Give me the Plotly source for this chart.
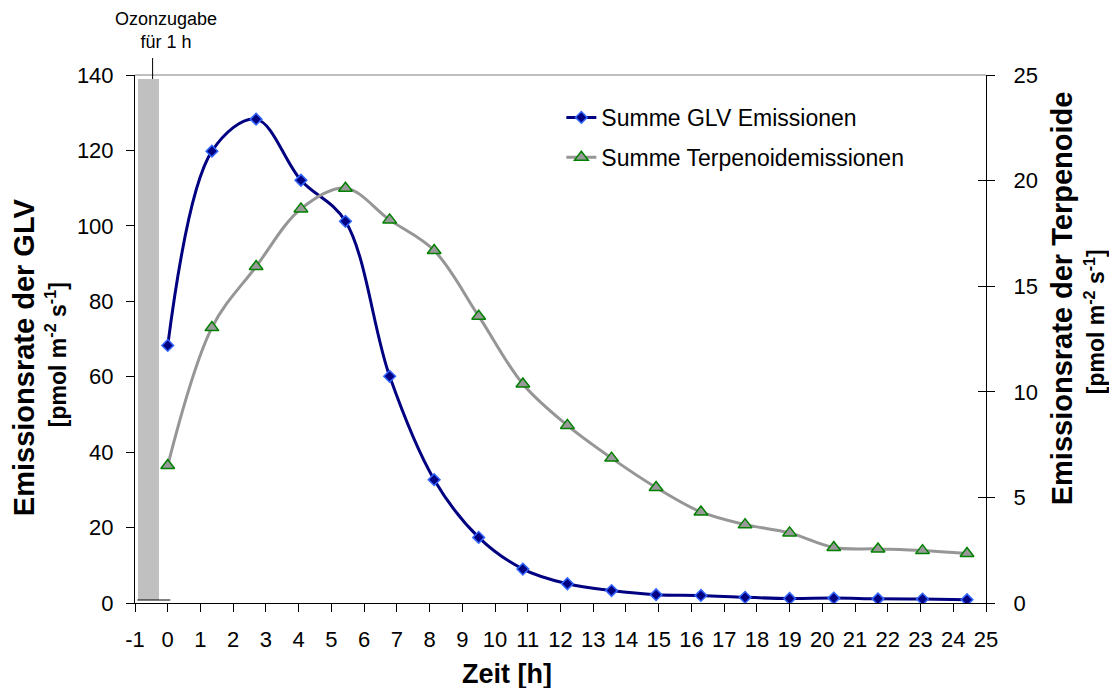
import plotly.graph_objects as go

# Time after ozone exposure [h]
zeit = [0, 1.35, 2.7, 4.07, 5.43, 6.78, 8.14, 9.5, 10.85, 12.21, 13.56, 14.92,
        16.29, 17.64, 19.0, 20.35, 21.7, 23.06, 24.42]

# Summed GLV emission rate [pmol m-2 s-1] (left axis)
glv = [68.3, 119.8, 128.3, 112.1, 101.2, 60.1, 32.7, 17.4, 9.0, 5.1, 3.3, 2.2,
       2.0, 1.5, 1.2, 1.3, 1.1, 1.05, 0.87]

# Summed terpenoid emission rate [pmol m-2 s-1] (right axis)
terpenoide = [6.51, 13.04, 15.93, 18.66, 19.64, 18.14, 16.69, 13.58, 10.37, 8.41,
              6.86, 5.47, 4.31, 3.71, 3.32, 2.63, 2.56, 2.48, 2.34]

# Ozone treatment interval (1 h before the first sample)
ozon_x = [-0.59]
ozon_hoehe = [138.2]
ozon_basis = [0.8]

x_ticks = list(range(-1, 26))
y1_ticks = [0, 20, 40, 60, 80, 100, 120, 140]
y2_ticks = [0, 5, 10, 15, 20, 25]

FONT = "Liberation Sans, Arial, sans-serif"
W, H = 1109, 688
L, R, T, B = 134.7, 985.6, 75.0, 603.3


def px(xp):
    return (xp - L) / (R - L)


def py(yp):
    return (B - yp) / (B - T)


fig = go.Figure()

fig.add_trace(go.Bar(
    x=ozon_x, y=ozon_hoehe, base=ozon_basis, width=0.66,
    marker=dict(color="#C0C0C0", line=dict(width=0)),
    showlegend=False, hoverinfo="skip"))

fig.add_trace(go.Scatter(
    x=zeit, y=glv, name="Summe GLV Emissionen", mode="lines+markers",
    line=dict(color="#000080", width=3, shape="spline", smoothing=1.0),
    marker=dict(symbol="diamond", size=9, color="#000080",
                line=dict(color="#3366FF", width=1.5)),
    legendgroup="a"))

fig.add_trace(go.Scatter(
    x=zeit, y=terpenoide, name="Summe Terpenoidemissionen", mode="lines+markers",
    line=dict(color="#969696", width=3, shape="spline", smoothing=1.0),
    marker=dict(symbol="triangle-up", size=12, color="#999999",
                line=dict(color="#008000", width=1.5)),
    yaxis="y2", legendgroup="b"))

axis_common = dict(showgrid=False, zeroline=False, showline=True,
                   linecolor="black", linewidth=1, ticks="outside",
                   tickcolor="black", ticklen=8, tickwidth=1,
                   tickfont=dict(family=FONT, size=22, color="black"))

fig.update_layout(
    width=W, height=H,
    margin=dict(l=L, r=W - R, t=T, b=H - B, pad=0),
    paper_bgcolor="white", plot_bgcolor="white",
    font=dict(family=FONT, color="black"),
    bargap=0,
    xaxis=dict(range=[-1, 25], tickmode="array", tickvals=x_ticks,
               ticktext=[str(v) for v in x_ticks], ticklabelstandoff=9,
               **axis_common),
    yaxis=dict(range=[0, 140], tickmode="array", tickvals=y1_ticks,
               ticklabelstandoff=8, **axis_common),
    yaxis2=dict(range=[0, 25], tickmode="array", tickvals=y2_ticks,
                overlaying="y", side="right", ticklabelstandoff=14,
                **axis_common),
    yaxis3=dict(range=[0, 25], tickmode="array", tickvals=y2_ticks,
                overlaying="y", side="right", showgrid=False, zeroline=False,
                showline=False, ticks="inside", ticklen=8, tickcolor="black",
                showticklabels=False),
    legend=dict(x=px(561), y=py(96), xanchor="left", yanchor="top",
                bgcolor="rgba(0,0,0,0)", borderwidth=0,
                font=dict(family=FONT, size=23, color="black"),
                tracegroupgap=7, traceorder="grouped"),
    showlegend=True,
)

# empty trace so the inside-tick axis is drawn
fig.add_trace(go.Scatter(x=[None], y=[None], yaxis="y3", showlegend=False,
                         hoverinfo="skip"))

shapes = [
    # plot frame top edge
    dict(type="line", xref="paper", yref="paper", x0=0, x1=1, y0=1, y1=1,
         line=dict(color="#808080", width=1)),
    # marker line from the ozone label down to the bar
    dict(type="line", xref="paper", yref="paper", x0=px(152.3), x1=px(152.3),
         y0=py(79), y1=py(58), line=dict(color="black", width=1)),
    # small baseline under the ozone bar
    dict(type="line", xref="paper", yref="paper", x0=px(137), x1=px(170),
         y0=py(600.3), y1=py(600.3), line=dict(color="black", width=1)),
]
fig.update_layout(shapes=shapes)

annotations = [
    dict(text="Ozonzugabe<br>für 1 h", x=px(166), y=py(30), xref="paper",
         yref="paper", showarrow=False, xanchor="center", yanchor="middle",
         font=dict(family=FONT, size=18, color="black")),
    dict(text="<b>Zeit [h]</b>", x=px(507), y=py(674), xref="paper",
         yref="paper", showarrow=False, xanchor="center", yanchor="middle",
         font=dict(family=FONT, size=27, color="black")),
    dict(text="<b>Emissionsrate der GLV</b>", x=px(24), y=py(357),
         xref="paper", yref="paper", showarrow=False, textangle=-90,
         xanchor="center", yanchor="middle",
         font=dict(family=FONT, size=29, color="black")),
    dict(text="<b>[pmol m<sup>-2</sup> s<sup>-1</sup>]</b>", x=px(56), y=py(355),
         xref="paper", yref="paper", showarrow=False, textangle=-90,
         xanchor="center", yanchor="middle",
         font=dict(family=FONT, size=23, color="black")),
    dict(text="<b>Emissionsrate der Terpenoide</b>", x=px(1061), y=py(298),
         xref="paper", yref="paper", showarrow=False, textangle=-90,
         xanchor="center", yanchor="middle",
         font=dict(family=FONT, size=29, color="black")),
    dict(text="<b>[pmol m<sup>-2</sup> s<sup>-1</sup>]</b>", x=px(1094), y=py(322),
         xref="paper", yref="paper", showarrow=False, textangle=-90,
         xanchor="center", yanchor="middle",
         font=dict(family=FONT, size=23, color="black")),
]
fig.update_layout(annotations=annotations)

fig.write_html("out.html")
